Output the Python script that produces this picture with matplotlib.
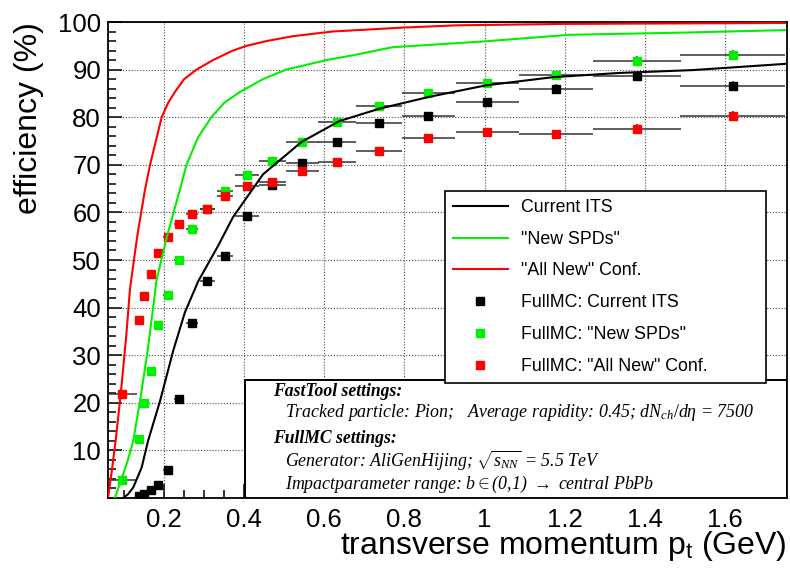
import numpy as np
import matplotlib.pyplot as plt
from matplotlib.lines import Line2D
from matplotlib.patches import Rectangle
from matplotlib.ticker import MultipleLocator, FixedLocator

plt.rcParams['font.family'] = ['Liberation Sans', 'DejaVu Sans']
plt.rcParams['mathtext.fontset'] = 'custom'
plt.rcParams['mathtext.rm'] = 'Liberation Serif'
plt.rcParams['mathtext.it'] = 'Liberation Serif:italic'
plt.rcParams['mathtext.bf'] = 'Liberation Serif:bold'
plt.rcParams['mathtext.sf'] = 'Liberation Sans'

# FastTool efficiency curves (pt in GeV, efficiency in %)
pt_its = [0.098, 0.110, 0.123, 0.144, 0.160, 0.190, 0.223, 0.252, 0.285, 0.335,
          0.372, 0.447, 0.543, 0.638, 0.738, 0.863, 1.004, 1.17, 1.337, 1.52, 1.75]
eff_its = [0, 0.8, 2.2, 6.4, 12, 20.4, 31, 39, 45.5, 53, 59, 68, 74.8, 79.2,
           81.8, 84.3, 86.7, 88.4, 89.3, 89.9, 91.2]

pt_spd = [0.077, 0.092, 0.108, 0.123, 0.140, 0.159, 0.175, 0.181, 0.208, 0.239,
          0.256, 0.285, 0.318, 0.35, 0.389, 0.447, 0.505, 0.605, 0.671, 0.77,
          0.995, 1.21, 1.51, 1.75]
eff_spd = [0, 3.6, 7.5, 12, 20.4, 31, 41.5, 45.7, 55.2, 64.6, 70, 75.8, 80, 83,
           85.3, 88, 90, 92, 93, 94.7, 95.9, 97.3, 97.8, 98.3]

pt_new = [0.060, 0.070, 0.079, 0.092, 0.106, 0.115, 0.133, 0.152, 0.165, 0.194,
          0.21, 0.227, 0.25, 0.281, 0.322, 0.372, 0.406, 0.456, 0.52, 0.62,
          0.79, 0.93, 1.2, 1.75]
eff_new = [0, 6, 12, 22, 34.5, 44, 55, 64.6, 70, 80, 83, 85.3, 88, 90, 92, 94,
           95, 96, 97, 98, 98.8, 99.3, 99.6, 99.8]

# FullMC points, same pt bins for all three layouts
pt_mc = [0.0955, 0.137, 0.150, 0.167, 0.185, 0.209, 0.237, 0.270, 0.308, 0.352,
         0.406, 0.470, 0.545, 0.632, 0.737, 0.860, 1.007, 1.179, 1.381, 1.619]
pt_halfwidth = [0.037, 0.006, 0.007, 0.008, 0.009, 0.011, 0.013, 0.015, 0.018, 0.021,
                0.030, 0.034, 0.041, 0.048, 0.057, 0.067, 0.079, 0.092, 0.110, 0.130]
mc_its = [np.nan, 0.4, 0.9, 1.6, 2.7, 5.8, 20.9, 36.7, 45.5, 50.9,
          59.2, 65.7, 70.4, 74.8, 78.7, 80.2, 83.1, 86.0, 88.6, 86.6]
mc_spd = [3.8, 12.4, 19.9, 26.6, 36.4, 42.7, 50.1, 56.6, 60.8, 64.6,
          67.8, 70.8, 74.8, 79.0, 82.3, 85.1, 87.1, 88.8, 91.8, 93.1]
mc_new = [21.8, 37.4, 42.5, 47.1, 51.4, 54.9, 57.6, 59.7, 60.7, 63.4,
          65.6, 66.4, 68.8, 70.6, 72.9, 75.6, 76.8, 76.4, 77.6, 80.2]
mc_err = [0, 0, 0, 0, 0, 0, 0, 0, 0, 0,
          0, 0, 0, 0, 0, 0, 0.6, 0.9, 1.0, 1.1]

RED = '#ff0000'
GREEN = '#00f000'

fig = plt.figure(figsize=(7.9, 5.7), dpi=100)
ax = fig.add_axes([0.1367, 0.1263, 0.8595, 0.8351])

for y, c in [(mc_its, 'black'), (mc_spd, GREEN), (mc_new, RED)]:
    ax.errorbar(pt_mc, y, xerr=pt_halfwidth, yerr=mc_err, fmt='s', ms=6,
                mfc=c, mec=c, ecolor='0.2', elinewidth=1.1, capsize=0, zorder=3)

ax.plot(pt_its, eff_its, color='black', lw=1.5, zorder=4)
ax.plot(pt_spd, eff_spd, color=GREEN, lw=1.5, zorder=4)
ax.plot(pt_new, eff_new, color=RED, lw=1.5, zorder=4)

ax.set_xlim(0.06, 1.755)
ax.set_ylim(0, 100)
ax.xaxis.set_major_locator(FixedLocator(np.arange(0.2, 1.61, 0.2)))
ax.xaxis.set_minor_locator(MultipleLocator(0.05))
ax.yaxis.set_major_locator(FixedLocator(np.arange(10, 101, 10)))
ax.yaxis.set_minor_locator(MultipleLocator(2))
ax.set_xticklabels(['0.2', '0.4', '0.6', '0.8', '1', '1.2', '1.4', '1.6'])
ax.tick_params(which='both', direction='in', top=False, right=False,
               labelsize=18.5, width=1.1)
ax.tick_params(which='major', length=10)
ax.tick_params(which='minor', length=6)
ax.tick_params(axis='y', pad=5)
ax.tick_params(axis='x', pad=7)
ax.grid(True, which='major', color='0.3', lw=0.8, linestyle=(0, (1, 1.6)))
for s in ax.spines.values():
    s.set_linewidth(1.3)

ax.set_ylabel('efficiency (%)', fontsize=23, loc='top')
ax.yaxis.set_label_coords(-0.094, 1.0)
ax.set_xlabel(r'transverse momentum p$_\mathsf{t}$ (GeV)', fontsize=23, loc='right')
ax.xaxis.set_label_coords(1.0, -0.066)

handles = [
    Line2D([], [], color='black', lw=1.5),
    Line2D([], [], color=GREEN, lw=1.5),
    Line2D([], [], color=RED, lw=1.5),
    Line2D([], [], color='black', marker='s', ms=6, ls='none'),
    Line2D([], [], color=GREEN, marker='s', ms=6, ls='none'),
    Line2D([], [], color=RED, marker='s', ms=6, ls='none'),
]
labels = ['Current ITS', '"New SPDs"', '"All New" Conf.',
          'FullMC: Current ITS', 'FullMC: "New SPDs"', 'FullMC: "All New" Conf.']
leg = ax.legend(handles, labels, loc='upper left', mode='expand',
                bbox_to_anchor=(0.496, 0.25, 0.473, 0.395), fontsize=12.8,
                frameon=True, fancybox=False, edgecolor='black', framealpha=1,
                handlelength=3.1, handletextpad=0.75, labelspacing=0.83,
                borderpad=0.45, borderaxespad=0)
leg.get_frame().set_linewidth(1.2)
leg.set_zorder(6)

# settings box in the lower right corner
ax.add_patch(Rectangle((0.2018, 0.0), 0.7982, 0.248, transform=ax.transAxes,
                       facecolor='white', edgecolor='black', lw=1.4, zorder=5))
serif = dict(family='Liberation Serif', style='italic', transform=ax.transAxes,
             zorder=6, va='baseline', ha='left')
ax.text(0.243, 0.214, 'FastTool settings:', fontsize=12.7, weight='bold', **serif)
ax.text(0.261, 0.171, r'Tracked particle: Pion;   Average rapidity: 0.45; '
        r'$dN_{ch}/d\eta$ = 7500', fontsize=12.9, **serif)
ax.text(0.243, 0.1155, 'FullMC settings:', fontsize=12.7, weight='bold', **serif)
ax.text(0.261, 0.066, r'Generator: AliGenHijing; $\sqrt{s_{NN}}$ = 5.5 TeV',
        fontsize=12.9, **serif)
ax.text(0.261, 0.019, r'Impactparameter range: b$\in$(0,1) $\rightarrow$ central PbPb',
        fontsize=12.9, **serif)

fig.savefig('out.png', dpi=100)
